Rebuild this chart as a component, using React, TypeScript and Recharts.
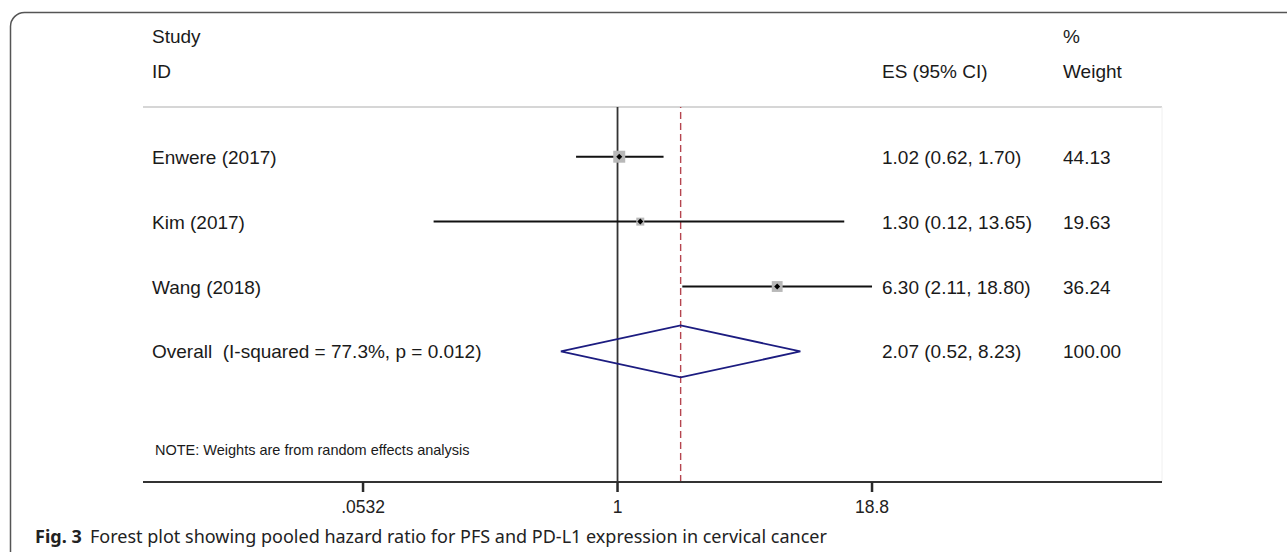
import React from "react";
import {
  ComposedChart,
  XAxis,
  YAxis,
  Line,
  Scatter,
  ReferenceLine,
} from "recharts";

// ---- Data ----
const studies = ["Enwere (2017)", "Kim (2017)", "Wang (2018)"];
const estimates = [1.02, 1.3, 6.3];
const lowerCI = [0.62, 0.12, 2.11];
const upperCI = [1.7, 13.65, 18.8];
const weights = [44.13, 19.63, 36.24];
const esLabels = ["1.02 (0.62, 1.70)", "1.30 (0.12, 13.65)", "6.30 (2.11, 18.80)"];
const weightLabels = ["44.13", "19.63", "36.24"];

const pooledLabel = "Overall  (I-squared = 77.3%, p = 0.012)";
const pooledEstimate = 2.07;
const pooledLower = 0.52;
const pooledUpper = 8.23;
const pooledEsLabel = "2.07 (0.52, 8.23)";
const pooledWeightLabel = "100.00";

const xTicks = [0.0532, 1, 18.8];
const xTickLabels = [".0532", "1", "18.8"];

// ---- Layout constants ----
const W = 1287;
const H = 552;
const X_DOMAIN: [number, number] = [0.00421, 532];
const Y_DOMAIN: [number, number] = [0.234, 6.012];
const DIAMOND_HALF = 0.4;
const COL_STUDY = 152;
const COL_ES = 882;
const COL_WEIGHT = 1063;
const FONT = "'Liberation Sans', Arial, sans-serif";
const ROW_FONT = 19;

const studyRows = studies.map((s, i) => ({
  x: estimates[i],
  y: i + 1,
  w: weights[i],
  label: s,
  es: esLabels[i],
  wt: weightLabels[i],
}));
const pooledRow = {
  x: pooledEstimate,
  y: studies.length + 1,
  label: pooledLabel,
  es: pooledEsLabel,
  wt: pooledWeightLabel,
};
const textRows = [...studyRows, pooledRow];

const diamondData = [
  { x: pooledLower, y: studies.length + 1 },
  { x: pooledEstimate, y: studies.length + 1 - DIAMOND_HALF },
  { x: pooledUpper, y: studies.length + 1 },
  { x: pooledEstimate, y: studies.length + 1 + DIAMOND_HALF },
  { x: pooledLower, y: studies.length + 1 },
];

const SquareShape = (props: any) => {
  const { cx, cy, payload } = props;
  if (cx == null || cy == null) return null;
  const side = 1.8 * Math.sqrt(payload.w);
  const d = 3;
  return (
    <g>
      <rect x={cx - side / 2} y={cy - side / 2} width={side} height={side} fill="#b8b8b8" />
      <polygon
        points={`${cx - d},${cy} ${cx},${cy - d} ${cx + d},${cy} ${cx},${cy + d}`}
        fill="#000"
      />
    </g>
  );
};

const TextShape = (props: any) => {
  const { cy, payload } = props;
  if (cy == null) return null;
  const by = cy + 7;
  return (
    <g fontFamily={FONT} fontSize={ROW_FONT} fill="#1a1a1a" style={{ whiteSpace: "pre" }}>
      <text x={COL_STUDY} y={by} xmlSpace="preserve" style={{ whiteSpace: "pre" }}>{payload.label}</text>
      <text x={COL_ES} y={by}>{payload.es}</text>
      <text x={COL_WEIGHT} y={by}>{payload.wt}</text>
    </g>
  );
};

const XTick = (props: any) => {
  const { x, y, payload } = props;
  const label = xTickLabels[xTicks.indexOf(payload.value)] ?? String(payload.value);
  return (
    <g>
      <rect x={x - 1.25} y={y - 2} width={2.5} height={10} fill="#2a2a2a" />
      <text x={x} y={y + 29} textAnchor="middle" fontFamily={FONT} fontSize={17.5} fill="#222">
        {label}
      </text>
    </g>
  );
};

export default function App() {
  return (
    <div style={{ position: "absolute", left: 0, top: 0, width: W, height: H, background: "#fff", overflow: "hidden" }}>
      <svg width={W} height={H} style={{ position: "absolute", left: 0, top: 0 }}>
        <rect x={10.5} y={12.5} width={1400} height={700} rx={14} ry={14} fill="none" stroke="#555" strokeWidth={1.5} />
      </svg>
      <div style={{ position: "absolute", left: 0, top: 0 }}>
        <ComposedChart
          width={W}
          height={H}
          margin={{ top: 107, right: W - 1162, bottom: 30, left: 143 }}
        >
          <XAxis
            type="number"
            dataKey="x"
            scale="log"
            domain={X_DOMAIN}
            allowDataOverflow
            ticks={xTicks}
            height={40}
            tickSize={0}
            tickMargin={2}
            tickLine={false}
            axisLine={{ stroke: "#333", strokeWidth: 2 }}
            tick={<XTick />}
            interval={0}
          />
          <YAxis type="number" dataKey="y" domain={Y_DOMAIN} reversed hide allowDataOverflow />
          <ReferenceLine y={Y_DOMAIN[0]} stroke="#c8c8c8" strokeWidth={1.5} />
          <ReferenceLine x={X_DOMAIN[1]} stroke="#f0f0f0" strokeWidth={1} />
          <ReferenceLine x={1} stroke="#333" strokeWidth={1.8} />
          <ReferenceLine x={pooledEstimate} stroke="#b5454f" strokeWidth={1.4} strokeDasharray="7 4" />
          {studyRows.map((r, i) => (
            <ReferenceLine
              key={`ci-${i}`}
              segment={[
                { x: lowerCI[i], y: r.y },
                { x: upperCI[i], y: r.y },
              ]}
              stroke="#111"
              strokeWidth={2}
            />
          ))}
          <Line
            data={diamondData}
            dataKey="y"
            stroke="#1c1c80"
            strokeWidth={1.8}
            dot={false}
            activeDot={false}
            isAnimationActive={false}
            type="linear"
          />
          <Scatter data={studyRows} dataKey="y" shape={SquareShape} isAnimationActive={false} />
          <Scatter data={textRows} dataKey="y" shape={TextShape} isAnimationActive={false} />
        </ComposedChart>
      </div>
      <svg width={W} height={H} style={{ position: "absolute", left: 0, top: 0, pointerEvents: "none" }}>
        <g fontFamily={FONT} fontSize={ROW_FONT} fill="#1a1a1a">
          <text x={COL_STUDY} y={43}>Study</text>
          <text x={COL_STUDY} y={78}>ID</text>
          <text x={COL_WEIGHT} y={43}>%</text>
          <text x={COL_ES} y={78}>ES (95% CI)</text>
          <text x={COL_WEIGHT} y={78}>Weight</text>
        </g>
        <text x={155} y={455} fontFamily={FONT} fontSize={14.5} fill="#1a1a1a">
          NOTE: Weights are from random effects analysis
        </text>
        <text x={35} y={543} fontFamily="'Noto Sans', 'Open Sans', sans-serif" fontSize={18} fill="#222">
          <tspan fontWeight="bold">Fig. 3</tspan>
          <tspan x={90}>Forest plot showing pooled hazard ratio for PFS and PD-L1 expression in cervical cancer</tspan>
        </text>
      </svg>
    </div>
  );
}
